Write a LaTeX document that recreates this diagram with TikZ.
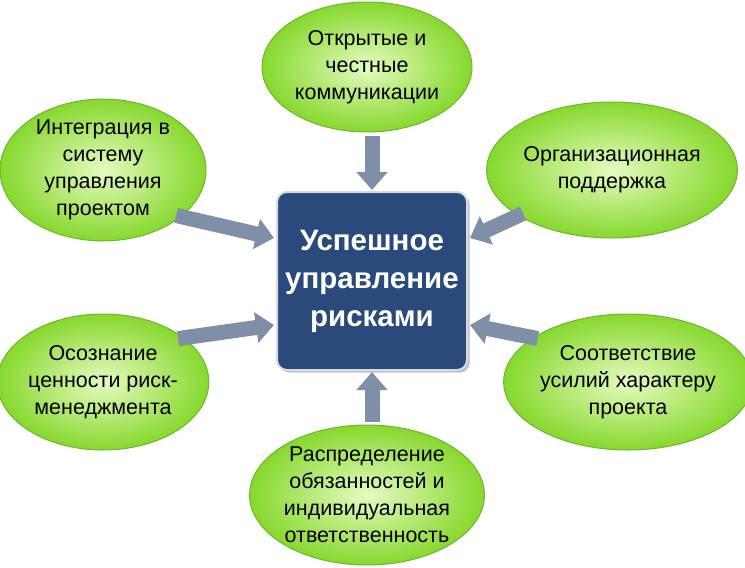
\documentclass[tikz,border=0pt]{standalone}
\usepackage{fontspec}
\setmainfont{Liberation Sans}
\usetikzlibrary{arrows.meta,shadows,shapes.geometric}
\definecolor{ebord}{HTML}{6FB52C}
\definecolor{ein}{HTML}{E6FBC0}
\definecolor{eout}{HTML}{86D82E}
\definecolor{boxc}{HTML}{294A7A}
\definecolor{arr}{HTML}{7F8FA8}
\tikzset{
  goal/.style={ellipse, draw=ebord, line width=1pt, inner color=ein, outer color=eout,
    align=center, font=\fontsize{21.5}{27}\selectfont, inner sep=0pt},
  flow/.style={line width=15pt, draw=arr, -{Triangle[width=30pt,length=18pt]}},
}
\begin{document}
\begin{tikzpicture}[x=1pt,y=-1pt]
\useasboundingbox (0,0) rectangle (745,568);
\node[goal, minimum width=210, minimum height=130] (t) at (367,67) {Открытые и\\честные\\коммуникации};
\node[goal, minimum width=206, minimum height=140] (tl) at (103,170) {Интеграция в\\систему\\управления\\проектом};
\node[goal, minimum width=206, minimum height=136] (tr) at (612,170) {Организационная\\поддержка};
\node[goal, minimum width=206, minimum height=136] (l) at (103,382) {Осознание\\ценности риск-\\менеджмента};
\node[goal, minimum width=212, minimum height=136] (r) at (628,382) {Соответствие\\усилий характеру\\проекта};
\node[goal, minimum width=216, minimum height=140] (b) at (367,495) {Распределение\\обязанностей и\\индивидуальная\\ответственность};
\node[draw=white!80!boxc, line width=2pt, rounded corners=10pt, fill=boxc,
  minimum width=190, minimum height=178, text=white, align=center,
  font=\fontsize{29.5}{38}\selectfont\bfseries, drop shadow] (c) at (372,281)
  {Успешное\\управление\\рисками};
\coordinate (ct) at (372,190);
\coordinate (cb) at (372,372);
\coordinate (ctl) at (274,238);
\coordinate (ctr) at (470,238);
\coordinate (cbl) at (274,325);
\coordinate (cbr) at (470,325);
\draw[flow] (t.south) ++(5,3) -- (ct);
\draw[flow] (b.north) ++(5,-3) -- (cb);
\draw[flow] (tl.south east) ++(0,-5) -- (ctl);
\draw[flow] (tr.south west) ++(0,-5) -- (ctr);
\draw[flow] (l.north east) ++(0,5) -- (cbl);
\draw[flow] (r.north west) ++(-2,5) -- (cbr);
\end{tikzpicture}
\end{document}
